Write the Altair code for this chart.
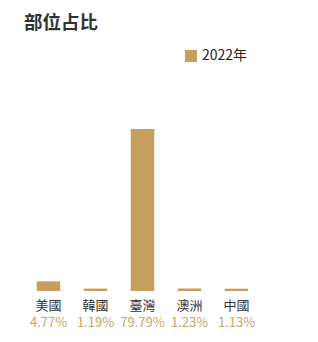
import altair as alt
import pandas as pd

regions = ["美國", "韓國", "臺灣", "澳洲", "中國"]
shares = [4.77, 1.19, 79.79, 1.23, 1.13]
share_labels = ["4.77%", "1.19%", "79.79%", "1.23%", "1.13%"]
series = ["2022年"] * 5

df = pd.DataFrame({"region": regions, "share": shares, "label": share_labels, "series": series})

FONT = "Noto Sans CJK TC"
GOLD = "#c69f5b"

x = alt.X("region:N", sort=regions, title=None,
          scale=alt.Scale(paddingInner=0.5, paddingOuter=0.25),
          axis=alt.Axis(labelAngle=0, ticks=False, domain=False, labelPadding=8,
                        labelFontSize=13, labelColor="#333333", labelFont=FONT))

bars = alt.Chart(df).mark_bar(color=GOLD).encode(
    x=x,
    y=alt.Y("share:Q", axis=None, scale=alt.Scale(domain=[0, 123.6], nice=False)),
    color=alt.Color("series:N", scale=alt.Scale(range=[GOLD]),
                    legend=alt.Legend(title=None, orient="none", legendX=159, legendY=9,
                                      symbolType="square", symbolSize=144, symbolStrokeWidth=0,
                                      labelFontSize=14, labelColor="#222222", labelFont=FONT)),
)

pct = alt.Chart(df).mark_text(color="#c9a56a", fontSize=13, font=FONT, baseline="middle").encode(
    x=alt.X("region:N", sort=regions),
    y=alt.value(283),
    text="label:N",
)

chart = alt.layer(bars, pct).properties(
    width=235, height=251,
    padding={"left": 17, "top": 32, "right": 40, "bottom": 40},
    autosize=alt.AutoSizeParams(type="none"),
    title=alt.TitleParams("部位占比", anchor="start", fontSize=18.5, fontWeight="bold",
                          color="#333333", font=FONT, offset=8, dx=-1),
).configure_view(stroke=None)

chart.save("out.html", embed_options={"renderer": "svg", "actions": False})
